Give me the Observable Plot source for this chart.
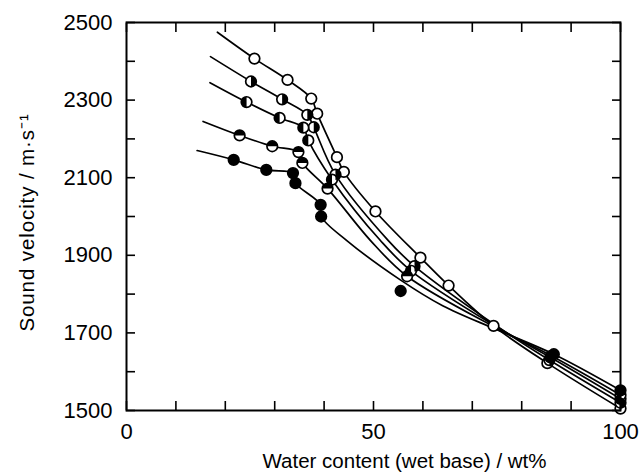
<!DOCTYPE html>
<html><head><meta charset="utf-8">
<script src="https://cdn.jsdelivr.net/npm/d3@7"></script>
<script src="https://cdn.jsdelivr.net/npm/@observablehq/plot@0.6"></script>
<style>body{margin:0;background:#fff} svg{display:block}</style>
</head><body><div id="chart"></div>
<script>
// Tick values
const xMinorTicks = [0,10,20,30,40,50,60,70,80,90,100];
const xLabelTicks = [0,50,100];
const yMinorTicks = [1500,1600,1700,1800,1900,2000,2100,2200,2300,2400,2500];
const yLabelTicks = [1500,1700,1900,2100,2300,2500];
const xTitle = "Water content (wet base) / wt%";
const yTitle = "Sound velocity / m·s⁻¹";

// Measured points (water content wt%, sound velocity m/s)
const pointsOpen = [[25.9,2407],[32.6,2352],[37.4,2304],[38.6,2265],[42.6,2153],[44.0,2115],[50.4,2013],[59.5,1894],[65.2,1822],[74.3,1718],[85.2,1622],[100,1505]];
const pointsRightHalf = [[25.2,2348],[31.5,2302],[36.6,2262],[37.9,2230],[42.3,2108],[58.3,1872],[85.6,1630],[100,1520]];
const pointsLeftHalf = [[24.3,2295],[31.0,2254],[35.8,2229],[36.8,2196],[41.6,2095],[57.6,1860],[85.8,1637],[100,1530]];
const pointsTopHalf = [[22.9,2209],[29.5,2181],[34.8,2166],[35.6,2138],[40.7,2072],[56.8,1846],[86.0,1641],[100,1540]];
const pointsSolid = [[21.7,2146],[28.3,2120],[33.7,2112],[34.2,2086],[39.3,2030],[39.4,2000],[55.5,1808],[86.5,1645],[100,1552]];

// Fitted curves
const curveOpen = [[18.4,2475],[25.9,2407],[32.6,2352],[37.4,2304],[38.6,2265],[42.6,2153],[44.0,2115],[50.4,2013],[59.5,1894],[65.2,1822],[74.3,1718],[85.2,1622],[100,1505]];
const curveRightHalf = [[17.0,2412],[25.2,2348],[31.5,2302],[36.6,2262],[37.9,2230],[42.3,2108],[53.0,1938],[58.3,1872],[75,1717],[85.6,1630],[100,1520]];
const curveLeftHalf = [[16.9,2345],[24.3,2295],[31.0,2254],[35.8,2229],[36.8,2196],[41.6,2095],[51.4,1938],[57.6,1860],[75,1715],[85.8,1637],[100,1530]];
const curveTopHalf = [[15.5,2245],[22.9,2209],[29.5,2181],[34.8,2166],[35.6,2138],[40.7,2072],[49.4,1938],[56.8,1846],[75,1712],[86.0,1641],[100,1540]];
const curveSolid = [[14.3,2170],[21.7,2146],[28.3,2120],[33.7,2112],[34.2,2086],[39.3,2030],[39.4,2000],[44.6,1938],[55.5,1836],[64.0,1770],[75,1708],[86.5,1645],[100,1552]];

const curves = [curveOpen, curveRightHalf, curveLeftHalf, curveTopHalf, curveSolid];
const lineData = curves.flatMap((c, k) => c.map(([x, y]) => ({x, y, s: k})));

function halfSymbol(a0, a1) {
  return {draw(ctx, size) {
    const r = Math.sqrt(size / Math.PI);
    ctx.moveTo(r * Math.cos(a0), r * Math.sin(a0));
    ctx.arc(0, 0, r, a0, a1);
    ctx.closePath();
  }};
}
const rightHalf = halfSymbol(-Math.PI/2, Math.PI/2);
const leftHalf = halfSymbol(Math.PI/2, 3*Math.PI/2);
const topHalf = halfSymbol(Math.PI, 2*Math.PI);

const R = 5.3;
const xy = {x: d => d[0], y: d => d[1]};
const allPoints = [...pointsOpen, ...pointsRightHalf, ...pointsLeftHalf, ...pointsTopHalf];

const chart = Plot.plot({
  width: 640, height: 474,
  marginLeft: 126, marginRight: 20, marginTop: 22, marginBottom: 64,
  x: {domain: [0, 100]},
  y: {domain: [1500, 2500]},
  style: {fontFamily: "'Liberation Sans', Arial, sans-serif", fontSize: "22px", color: "black", background: "white"},
  marks: [
    Plot.line(lineData, {x: "x", y: "y", z: "s", curve: "catmull-rom", stroke: "black", strokeWidth: 1.7}),
    Plot.dot(allPoints, {...xy, r: R, fill: "white", stroke: "black", strokeWidth: 1.7}),
    Plot.dot(pointsRightHalf, {...xy, r: R, symbol: rightHalf, fill: "black"}),
    Plot.dot(pointsLeftHalf, {...xy, r: R, symbol: leftHalf, fill: "black"}),
    Plot.dot(pointsTopHalf, {...xy, r: R, symbol: topHalf, fill: "black"}),
    Plot.dot(pointsSolid, {...xy, r: R, fill: "black", stroke: "black", strokeWidth: 1.7}),
    Plot.axisX({anchor: "bottom", ticks: xMinorTicks, tickSize: -9, strokeWidth: 1.6, tickFormat: () => "", label: null}),
    Plot.axisX({anchor: "top", ticks: xMinorTicks, tickSize: -9, strokeWidth: 1.6, tickFormat: () => "", label: null}),
    Plot.axisY({anchor: "left", ticks: yMinorTicks, tickSize: -9, strokeWidth: 1.6, tickFormat: () => "", label: null}),
    Plot.axisY({anchor: "right", ticks: yMinorTicks, tickSize: -9, strokeWidth: 1.6, tickFormat: () => "", label: null}),
    Plot.axisX({anchor: "bottom", ticks: xLabelTicks, tickSize: 0, tickPadding: 13, fontSize: 22,
      tickFormat: d3.format("d"), label: null}),
    Plot.axisY({anchor: "left", ticks: yLabelTicks, tickSize: 0, tickPadding: 14, fontSize: 22,
      tickFormat: d3.format("d"), label: null}),
    Plot.text([xTitle], {text: d => d, frameAnchor: "bottom", textAnchor: "middle", dx: 31, dy: 57, fontSize: 20.5, className: "xtitle"}),
    Plot.text([yTitle], {text: d => d, frameAnchor: "left", textAnchor: "middle", rotate: -90, dx: -99, dy: 6, fontSize: 20.5, className: "ytitle"}),
    Plot.frame({stroke: "black", strokeWidth: 2})
  ]
});
d3.select(chart).selectAll(".ytitle text").style("letter-spacing", "0.9px");
document.getElementById("chart").appendChild(chart);
</script>
</body></html>
